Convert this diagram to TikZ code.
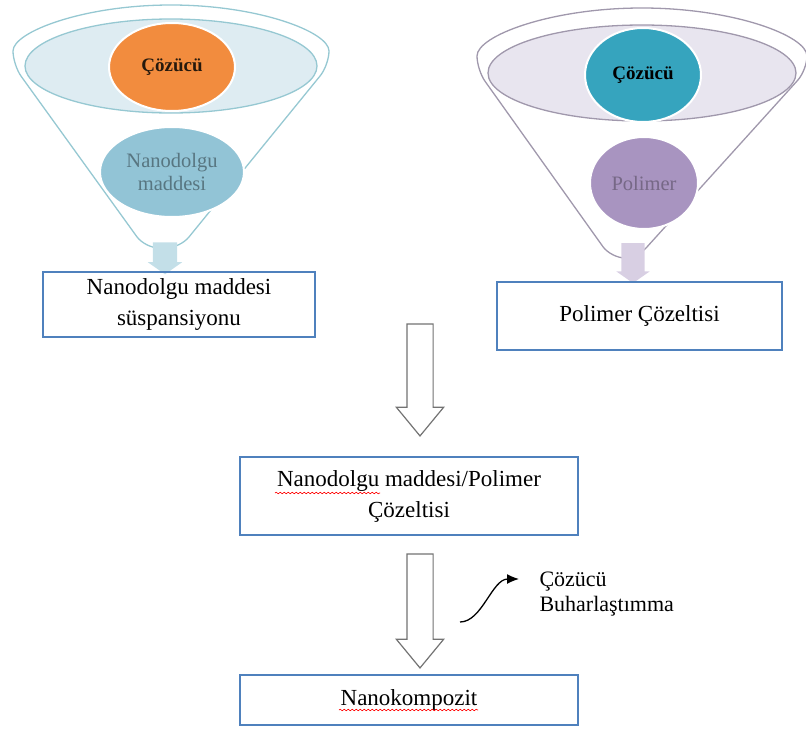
\documentclass[tikz,border=0pt]{standalone}
\usepackage{fontspec}
\setmainfont{Liberation Serif}
\usetikzlibrary{positioning, calc, arrows.meta, shapes.geometric, shapes.arrows, decorations.pathmorphing}

\definecolor{boxblue}{RGB}{79,129,189}
\definecolor{funnelA}{RGB}{150,200,210}
\definecolor{bowlA}{RGB}{222,236,242}
\definecolor{orangeA}{RGB}{242,140,62}
\definecolor{fillerA}{RGB}{146,196,214}
\definecolor{funnelB}{RGB}{160,152,172}
\definecolor{bowlB}{RGB}{232,229,239}
\definecolor{tealB}{RGB}{54,164,190}
\definecolor{polyB}{RGB}{168,148,192}

\begin{document}
\begin{tikzpicture}[x=1pt, y=1pt,
    box/.style={draw=boxblue, line width=2pt, align=center, inner sep=0pt,
        font=\fontsize{23}{31}\selectfont},
    blob/.style={ellipse, draw=white, line width=2pt, inner sep=0pt, align=center,
        font=\fontsize{20.5}{23}\selectfont},
    hollow arrow/.style={single arrow, draw=black!55, fill=white, line width=1.2pt,
        rotate=-90, inner xsep=0pt, inner ysep=12.5pt, single arrow head extend=10.5pt,
        single arrow tip angle=79},
    spout/.style={single arrow, fill=#1, rotate=-90, inner xsep=0pt, single arrow tip angle=110},
    typo/.style={red, line width=0.6pt, decorate, decoration={snake, amplitude=0.8pt, segment length=4pt}}]
    \useasboundingbox (0,0) rectangle (806,-731);

    % left funnel
    \draw[funnelA, line width=1.3pt, rounded corners=14pt] (13,-65)
        arc[start angle=180, end angle=0, x radius=158, y radius=60]
        -- (180,-248) -- (145,-248) -- cycle;
    \draw[funnelA, fill=bowlA, line width=1.3pt] (171,-66) ellipse [x radius=146, y radius=47];
    \node[blob, fill=orangeA, minimum width=126, minimum height=88, text=black!80!brown,
        font=\fontsize{19}{22}\selectfont\bfseries] (solvL) at (172,-67) {Çözücü};
    \node[blob, fill=fillerA, minimum width=144, minimum height=90, text=black!40!fillerA]
        (fillL) at (172,-172) {Nanodolgu\\maddesi};

    % right funnel
    \draw[funnelB, line width=1.3pt, rounded corners=14pt] (477,-70)
        arc[start angle=180, end angle=0, x radius=165, y radius=62]
        -- (637,-258) -- (611,-258) -- cycle;
    \draw[funnelB, fill=bowlB, line width=1.3pt] (642,-73) ellipse [x radius=154, y radius=48];
    \node[blob, fill=tealB, minimum width=116, minimum height=94,
        font=\fontsize{19}{22}\selectfont\bfseries] (solvR) at (643,-75) {Çözücü};
    \node[blob, fill=polyB, minimum width=108, minimum height=92, text=black!30!polyB]
        (polyR) at (644,-183) {Polimer};

    % spouts
    \node[spout=fillerA!55, minimum height=32, inner ysep=12pt, single arrow head extend=5pt]
        (outL) at (165,-254) {};
    \node[spout=polyB!45, minimum height=40, inner ysep=11.5pt, single arrow head extend=5pt]
        (outR) at (633,-259) {};

    % boxes
    \node[box, minimum width=272, minimum height=65] (susp) at (179,-304.5) {Nanodolgu maddesi\\süspansiyonu};
    \node[box, minimum width=285, minimum height=68] (sol) at (639.5,-316) {Polimer Çözeltisi};
    \node[box, minimum width=338, minimum height=78] (mix) at (409,-496) {Nanodolgu maddesi/Polimer\\Çözeltisi};
    \node[box, minimum width=338, minimum height=50] (comp) at (409,-700) {Nanokompozit};

    % process arrows
    \node[hollow arrow, minimum height=112] (step1) at (420,-372) {};
    \node[hollow arrow, minimum height=114] (step2) at (420,-603) {};

    % evaporation
    \node[align=left, anchor=west, font=\fontsize{22}{25}\selectfont] (evap) at (536,-594) {Çözücü\\Buharlaştımma};
    \coordinate (evs) at (460,-622);
    \coordinate (evt) at ([xshift=-17pt, yshift=15pt] evap.west);
    \draw[line width=1.3pt, -{Latex[length=12pt, width=10pt]}] (evs) .. controls (482,-622) and (492,-579) .. (evt);

    % spell check marks
    \draw[typo] (275,-493) -- (380,-493);
    \draw[typo] (339,-710) -- (478,-710);
\end{tikzpicture}
\end{document}
